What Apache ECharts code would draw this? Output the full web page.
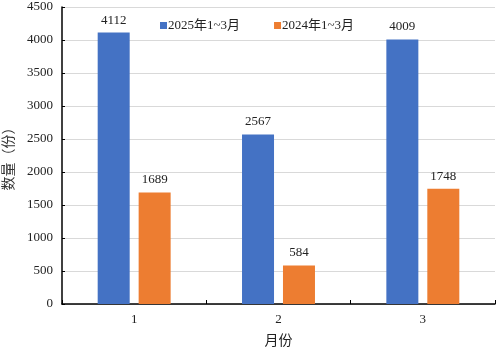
<!DOCTYPE html>
<html>
<head>
<meta charset="utf-8">
<script src="https://cdn.jsdelivr.net/npm/echarts@6/dist/echarts.min.js"></script>
<style>
html,body{margin:0;padding:0;background:#fff;}
#chart{width:500px;height:350px;}
</style>
</head>
<body>
<div id="chart"></div>
<script>
// Monthly counts, Jan–Mar 2025 vs Jan–Mar 2024
const months = ['1', '2', '3'];
const seriesNames = ['2025年1~3月', '2024年1~3月'];
const values2025 = [4112, 2567, 4009];
const values2024 = [1689, 584, 1748];
const yTicks = [0, 500, 1000, 1500, 2000, 2500, 3000, 3500, 4000, 4500];

const serif = '"Liberation Serif", "Times New Roman", "Noto Sans CJK SC", serif';
const colors = ['#4472C4', '#ED7D31'];

const chart = echarts.init(document.getElementById('chart'), null, { renderer: 'canvas' });
chart.setOption({
  animation: false,
  textStyle: { fontFamily: serif },
  legend: {
    data: seriesNames,
    top: 14,
    left: 155,
    itemGap: 34,
    itemWidth: 7,
    itemHeight: 7,
    icon: 'rect',
    textStyle: { fontFamily: serif, fontSize: 13, color: '#222', padding: [0, 0, 0, -4] }
  },
  grid: { left: 62, right: 5, top: 7, bottom: 46, containLabel: false, outerBoundsMode: 'none' },
  xAxis: {
    type: 'category',
    data: months,
    name: '月份',
    nameLocation: 'middle',
    nameGap: 30,
    nameTextStyle: { fontFamily: serif, fontSize: 14, color: '#222' },
    axisLine: { lineStyle: { color: '#000', width: 1.5 } },
    axisTick: { show: true, inside: true, length: 4, lineStyle: { color: '#000' } },
    axisLabel: { fontFamily: serif, fontSize: 13, color: '#222', margin: 9 }
  },
  yAxis: {
    type: 'value',
    min: yTicks[0],
    max: yTicks[yTicks.length - 1],
    interval: yTicks[1] - yTicks[0],
    name: '数量（份）',
    nameLocation: 'middle',
    nameGap: 41,
    nameRotate: 90,
    nameTextStyle: { fontFamily: serif, fontSize: 14, color: '#333' },
    axisLine: { show: true, lineStyle: { color: '#000', width: 1.5 } },
    axisTick: { show: true, inside: true, length: 3, lineStyle: { color: '#000' } },
    axisLabel: {
      fontFamily: serif, fontSize: 13, color: '#222', margin: 9,
      formatter: (v) => String(v)
    },
    splitLine: { lineStyle: { color: '#d9d9d9', width: 1 } }
  },
  series: [
    {
      name: seriesNames[0],
      type: 'bar',
      data: values2025,
      barWidth: 32,
      barGap: '28%',
      itemStyle: { color: colors[0] },
      label: { show: true, position: 'top', distance: 6, fontFamily: serif, fontSize: 13, color: '#222' }
    },
    {
      name: seriesNames[1],
      type: 'bar',
      data: values2024,
      barWidth: 32,
      barGap: '28%',
      itemStyle: { color: colors[1] },
      label: { show: true, position: 'top', distance: 6, fontFamily: serif, fontSize: 13, color: '#222' }
    }
  ]
});
</script>
</body>
</html>
